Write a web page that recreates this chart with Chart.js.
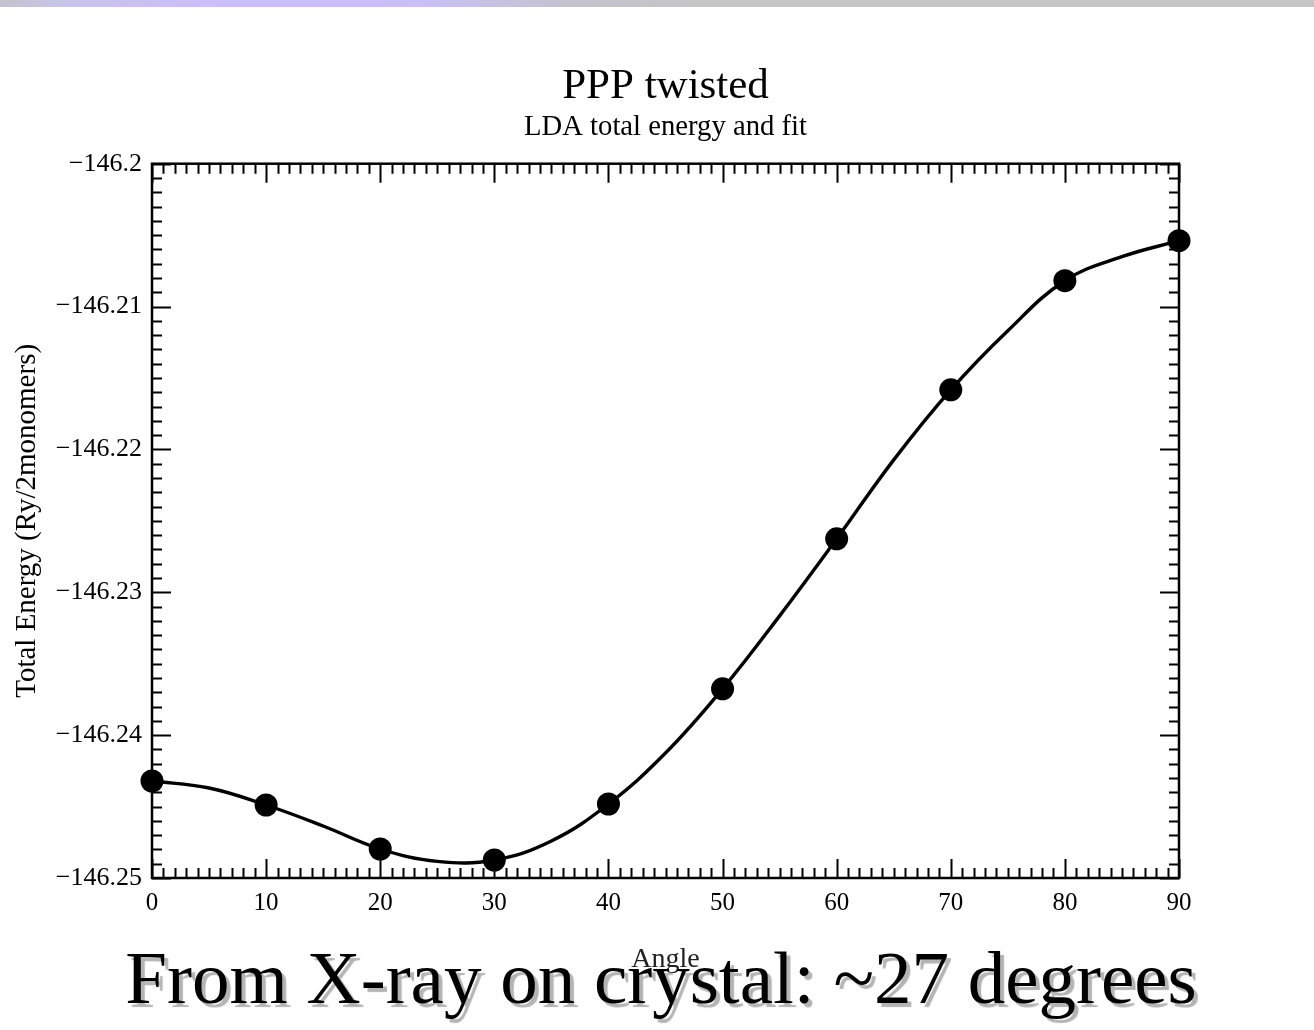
<!DOCTYPE html>
<html>
<head>
<meta charset="utf-8">
<script src="https://cdn.jsdelivr.net/npm/chart.js@4/dist/chart.umd.min.js"></script>
<style>
  html, body { margin: 0; padding: 0; background: #fff; }
  #wrap { position: relative; width: 1314px; height: 1030px; overflow: hidden; }
  #topbar { position: absolute; left: 0; top: 0; width: 1314px; height: 7px;
    background: linear-gradient(90deg, #c4c2cc 0px, #c8c4e8 60px, #cabff8 200px, #c9c0f6 420px, #c4c3cf 560px, #c5c5c5 700px, #c5c5c5 1314px); }
  #c { position: absolute; left: 0; top: 0; }
  #caption { position: absolute; left: 4px; top: 940px; width: 1314px; text-align: center;
    font-family: "Liberation Serif", "Times New Roman", serif; font-size: 75px; line-height: 1;
    color: #000; text-shadow: 4px 4px 1px #b4b4b4; white-space: nowrap; }
</style>
</head>
<body>
<div id="wrap">
  <canvas id="c" width="1314" height="1030"></canvas>
  <div id="topbar"></div>
  <div id="caption">From X-ray on crystal: ~27 degrees</div>
</div>
<script>
// ---- data ----
const angles = [0, 10, 20, 30, 40, 50, 60, 70, 80, 90];
const energies = [-146.24321, -146.24489, -146.24797, -146.24874, -146.24482,
                  -146.23676, -146.22626, -146.21583, -146.20819, -146.20539];
const fitAngles = [0, 5, 10, 15, 20, 25, 30, 35, 40, 45, 50, 55, 60, 65, 70, 75, 80, 85, 90];
const fitEnergies = [-146.24321, -146.24370, -146.24489, -146.24636, -146.24797, -146.24884,
                     -146.24874, -146.24741, -146.24482, -146.24125, -146.23676,
                     -146.23165, -146.22626, -146.22073, -146.21583, -146.21169, -146.20819,
                     -146.20651, -146.20539];
const xTicks = [0, 10, 20, 30, 40, 50, 60, 70, 80, 90];
const yTicks = [-146.25, -146.24, -146.23, -146.22, -146.21, -146.2];
const yTickLabels = ['\u2212146.25', '\u2212146.24', '\u2212146.23', '\u2212146.22', '\u2212146.21', '\u2212146.2'];

const titleText = 'PPP twisted';
const subtitleText = 'LDA total energy and fit';
const xTitle = 'Angle';
const yTitle = 'Total Energy (Ry/2monomers)';

const SERIF = '"Liberation Serif", "Times New Roman", serif';

// inward ticks on all four sides plus frame
const frameTicks = {
  id: 'frameTicks',
  afterDatasetsDraw(chart) {
    const { ctx, chartArea: a, scales: { x, y } } = chart;
    ctx.save();
    ctx.strokeStyle = '#000';
    ctx.lineWidth = 2;
    ctx.beginPath();
    for (let i = 0; i <= 90; i++) {
      const px = Math.round(x.getPixelForValue(i)) + 0.5;
      const len = (i % 10 === 0) ? 19 : 10;
      ctx.moveTo(px, a.bottom); ctx.lineTo(px, a.bottom - len);
      ctx.moveTo(px, a.top); ctx.lineTo(px, a.top + len);
    }
    for (let j = 0; j <= 50; j++) {
      const v = -146.25 + j * 0.001;
      const py = Math.round(y.getPixelForValue(v)) + 0.5;
      const len = (j % 10 === 0) ? 19 : 10;
      ctx.moveTo(a.left, py); ctx.lineTo(a.left + len, py);
      ctx.moveTo(a.right, py); ctx.lineTo(a.right - len, py);
    }
    ctx.stroke();
    ctx.lineWidth = 2.5;
    ctx.strokeRect(a.left, a.top, a.right - a.left, a.bottom - a.top);
    ctx.restore();
  }
};

new Chart(document.getElementById('c'), {
  type: 'scatter',
  data: {
    datasets: [
      {
        label: 'fit',
        data: fitAngles.map((a, i) => ({ x: a, y: fitEnergies[i] })),
        showLine: true,
        borderColor: '#000',
        borderWidth: 3.4,
        pointRadius: 0,
        tension: 0.4,
        fill: false,
        order: 2
      },
      {
        label: 'LDA',
        data: angles.map((a, i) => ({ x: a, y: energies[i] })),
        showLine: false,
        pointRadius: 11.5,
        pointBackgroundColor: '#000',
        pointBorderColor: '#000',
        pointBorderWidth: 0,
        order: 1
      }
    ]
  },
  options: {
    responsive: false,
    animation: false,
    events: [],
    clip: false,
    layout: { padding: { left: 0, right: 135, top: 0, bottom: 0 } },
    plugins: {
      legend: { display: false },
      tooltip: { enabled: false },
      title: {
        display: true, text: titleText, color: '#000', fullSize: false,
        font: { family: SERIF, size: 43, weight: 'normal', lineHeight: 1.0 },
        padding: { top: 65, bottom: 0 }
      },
      subtitle: {
        display: true, text: subtitleText, color: '#000', fullSize: false,
        font: { family: SERIF, size: 28.7, weight: 'normal', lineHeight: 1.0 },
        padding: { top: 5, bottom: 22 }
      }
    },
    scales: {
      x: {
        type: 'linear', min: 0, max: 90,
        afterBuildTicks(s) { s.ticks = xTicks.map(v => ({ value: v })); },
        afterFit(s) { s.height = 152; },
        grid: { display: false, drawTicks: false },
        border: { display: false },
        ticks: {
          color: '#000', padding: 10, maxRotation: 0,
          font: { family: SERIF, size: 25 },
          callback: v => String(v)
        },
        title: {
          display: true, text: xTitle, color: '#222',
          font: { family: SERIF, size: 28, lineHeight: 1.0 },
          padding: { top: 0, bottom: 56 }
        }
      },
      y: {
        type: 'linear', min: -146.25, max: -146.2,
        afterBuildTicks(s) { s.ticks = yTicks.map(v => ({ value: v })); },
        afterFit(s) { s.width = 152; },
        grid: { display: false, drawTicks: false },
        border: { display: false },
        ticks: {
          color: '#000', padding: 10,
          font: { family: SERIF, size: 26 },
          callback: (v, i) => yTickLabels[i]
        },
        title: {
          display: true, text: yTitle, color: '#000',
          font: { family: SERIF, size: 29, lineHeight: 1.0 },
          padding: { top: 13, bottom: 0 }
        }
      }
    }
  },
  plugins: [frameTicks]
});
</script>
</body>
</html>
